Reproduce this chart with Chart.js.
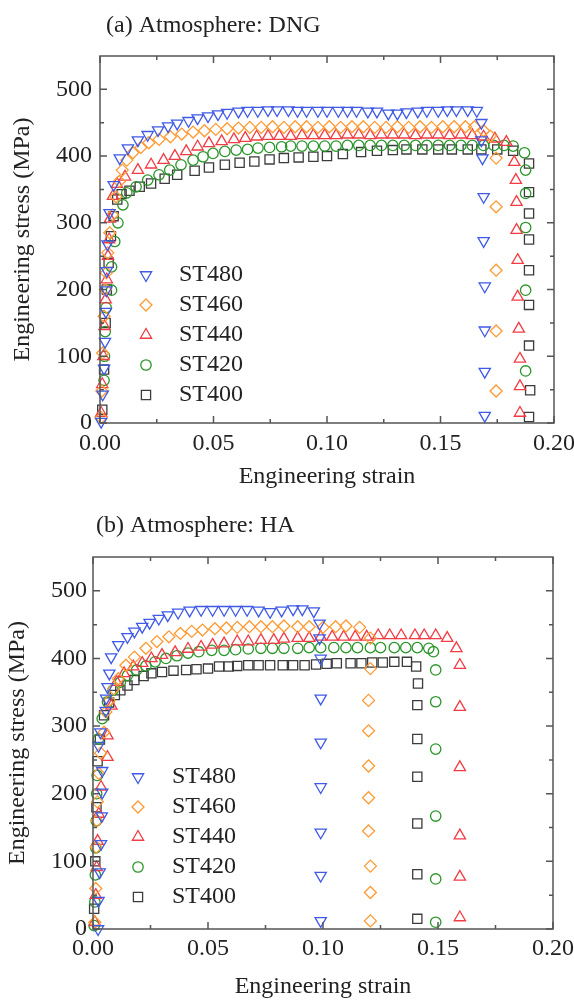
<!DOCTYPE html>
<html>
<head>
<meta charset="utf-8">
<script src="https://cdn.jsdelivr.net/npm/chart.js@4.4.1/dist/chart.umd.min.js"></script>
<style>
  html, body { margin: 0; padding: 0; background: #fff; }
  canvas { position: absolute; left: 0; }
</style>
</head>
<body>
<canvas id="chartDNG" width="574" height="500" style="top:0"></canvas>
<canvas id="chartHA" width="574" height="501" style="top:500px"></canvas>
<script>
const seriesNames = ["ST480", "ST460", "ST440", "ST420", "ST400"];
const xTickValues = [0, 0.05, 0.1, 0.15, 0.2];
const xMinorValues = [0.025, 0.075, 0.125, 0.175];
const yTickValues = [0, 100, 200, 300, 400, 500];
const yMinorValues = [50, 150, 250, 350, 450];

// (a) atmosphere DNG, points are [strain, stress MPa]
const dngST480 = [[0.0005,2],[0.0012,43],[0.0018,82],[0.0022,122],[0.0026,167],[0.0028,199],[0.003,228],[0.0033,268],[0.0042,315],[0.006,357],[0.0087,397],[0.0123,412],[0.0167,424],[0.021,432],[0.0256,439],[0.030,445],[0.034,449],[0.039,453],[0.043,457],[0.0476,460],[0.052,463],[0.056,465],[0.061,467],[0.065,468],[0.0695,468],[0.074,469],[0.078,469],[0.083,469],[0.087,468],[0.091,468],[0.096,468],[0.100,468],[0.105,468],[0.109,468],[0.113,468],[0.118,467],[0.122,467],[0.127,464],[0.131,464],[0.135,466],[0.140,467],[0.144,468],[0.149,468],[0.153,469],[0.157,469],[0.162,469],[0.166,468],[0.168,450],[0.168,424],[0.1685,397],[0.169,339],[0.169,273],[0.1695,205],[0.1695,139],[0.1695,77],[0.1695,11]];
const dngST460 = [[0.0005,8],[0.0008,48],[0.0012,105],[0.0018,160],[0.0024,200],[0.0028,225],[0.0034,255],[0.0043,285],[0.0055,312],[0.007,339],[0.0085,362],[0.0098,379],[0.0118,394],[0.0145,405],[0.018,413],[0.0215,420],[0.026,425],[0.031,429],[0.036,433],[0.041,436],[0.046,438],[0.051,440],[0.056,441],[0.061,442],[0.066,443],[0.071,443],[0.076,444],[0.081,443],[0.086,444],[0.091,444],[0.096,443],[0.101,444],[0.106,443],[0.111,444],[0.116,444],[0.121,443],[0.126,443],[0.131,444],[0.136,443],[0.141,444],[0.146,443],[0.151,444],[0.156,444],[0.161,444],[0.165,444],[0.169,438],[0.172,430],[0.1745,397],[0.1745,324],[0.1745,229],[0.1745,138],[0.1745,48]];
const dngST440 = [[0.0005,15],[0.001,58],[0.0015,100],[0.002,145],[0.0025,185],[0.003,215],[0.0035,250],[0.004,275],[0.0044,306],[0.0057,340],[0.0075,358],[0.011,369],[0.0167,379],[0.0225,387],[0.028,394],[0.033,400],[0.038,407],[0.043,414],[0.048,419],[0.0536,422],[0.059,425],[0.064,427],[0.069,429],[0.074,430],[0.079,430],[0.084,430],[0.089,431],[0.094,431],[0.099,431],[0.104,431],[0.109,432],[0.114,432],[0.119,431],[0.124,432],[0.129,432],[0.134,432],[0.139,431],[0.144,432],[0.149,432],[0.154,431],[0.159,432],[0.164,431],[0.169,429],[0.174,426],[0.179,421],[0.1825,391],[0.1832,364],[0.1835,331],[0.1835,289],[0.184,244],[0.184,189],[0.1845,141],[0.185,96],[0.185,55],[0.185,15]];
const dngST420 = [[0.0018,64],[0.002,100],[0.0023,137],[0.0027,173],[0.0051,199],[0.0051,234],[0.0065,272],[0.0079,300],[0.0101,327],[0.0118,345],[0.0159,354],[0.021,364],[0.026,372],[0.0307,379],[0.0357,387],[0.041,394],[0.0454,399],[0.0498,404],[0.055,407],[0.060,409],[0.065,410],[0.0696,412],[0.0747,413],[0.080,414],[0.084,415],[0.089,415],[0.094,415],[0.099,415],[0.104,415],[0.109,416],[0.114,416],[0.119,416],[0.124,416],[0.129,416],[0.134,416],[0.139,416],[0.144,416],[0.149,416],[0.154,416],[0.159,416],[0.164,416],[0.169,416],[0.1735,416],[0.178,416],[0.182,415],[0.187,405],[0.1875,379],[0.1875,344],[0.1875,293],[0.1875,199],[0.1875,78]];
const dngST400 = [[0.001,20],[0.0018,80],[0.0025,150],[0.003,200],[0.0038,240],[0.0048,280],[0.006,310],[0.0076,335],[0.0095,343],[0.013,348],[0.0175,354],[0.0225,359],[0.0285,366],[0.034,372],[0.0417,378],[0.048,383],[0.055,387],[0.0615,390],[0.068,392],[0.0747,395],[0.081,397],[0.0875,398],[0.094,399],[0.1,400],[0.107,403],[0.115,406],[0.122,408],[0.129,409],[0.135,410],[0.142,410],[0.149,410],[0.155,410],[0.162,410],[0.168,410],[0.175,410],[0.182,408],[0.189,389],[0.189,346],[0.189,314],[0.189,275],[0.189,229],[0.189,177],[0.189,116],[0.1895,49],[0.189,9]];

// (b) atmosphere HA
const haST480 = [[0.0022,0],[0.0024,42],[0.0029,84],[0.0035,126],[0.0038,167],[0.004,202],[0.004,234],[0.0024,271],[0.0032,291],[0.0055,323],[0.0057,341],[0.0063,358],[0.0071,378],[0.0079,402],[0.011,420],[0.015,432],[0.018,440],[0.0214,447],[0.0246,453],[0.0286,459],[0.0325,464],[0.037,468],[0.042,471],[0.047,472],[0.052,472],[0.057,472],[0.062,472],[0.067,472],[0.072,471],[0.077,469],[0.082,471],[0.087,473],[0.091,473],[0.096,470],[0.0985,452],[0.0985,430],[0.099,400],[0.099,341],[0.099,276],[0.099,210],[0.099,143],[0.099,79],[0.099,12]];
const haST460 = [[0.0008,10],[0.0012,60],[0.0014,121],[0.0017,160],[0.0019,188],[0.0025,230],[0.0033,260],[0.0048,291],[0.0056,321],[0.0071,338],[0.009,355],[0.011,370],[0.0143,390],[0.018,402],[0.023,415],[0.0278,425],[0.033,432],[0.038,437],[0.0429,440],[0.0476,442],[0.053,444],[0.058,445],[0.0627,446],[0.068,447],[0.073,447],[0.078,447],[0.083,448],[0.089,447],[0.094,447],[0.1,446],[0.1055,447],[0.11,448],[0.1159,446],[0.1206,430],[0.1206,385],[0.1198,338],[0.1198,293],[0.1198,241],[0.1198,194],[0.1198,145],[0.1206,93],[0.1206,54],[0.1206,12]];
const haST440 = [[0.0008,10],[0.0012,50],[0.0016,91],[0.002,130],[0.0025,170],[0.0035,210],[0.0063,254],[0.0063,286],[0.008,330],[0.0103,365],[0.0135,378],[0.0175,388],[0.0214,393],[0.0254,400],[0.030,405],[0.0357,409],[0.0413,414],[0.047,417],[0.052,420],[0.057,422],[0.0627,425],[0.0675,425],[0.073,427],[0.0786,427],[0.083,429],[0.089,430],[0.094,430],[0.099,432],[0.104,432],[0.109,432],[0.114,432],[0.119,432],[0.124,434],[0.129,434],[0.134,434],[0.14,434],[0.144,434],[0.149,434],[0.154,430],[0.158,415],[0.1595,390],[0.1595,328],[0.1595,239],[0.1595,138],[0.1595,77],[0.1595,17]];
const haST420 = [[0.0005,5],[0.0008,40],[0.001,80],[0.0012,120],[0.0014,160],[0.0016,200],[0.0018,227],[0.0024,281],[0.004,311],[0.0063,336],[0.0087,353],[0.0119,365],[0.015,375],[0.019,383],[0.023,389],[0.027,395],[0.0317,400],[0.0365,404],[0.0413,408],[0.046,410],[0.0516,412],[0.057,412],[0.062,413],[0.0675,414],[0.073,415],[0.078,415],[0.083,415],[0.089,415],[0.094,416],[0.099,416],[0.1047,416],[0.11,416],[0.115,416],[0.1206,416],[0.125,416],[0.131,416],[0.136,416],[0.141,416],[0.146,415],[0.148,410],[0.149,383],[0.149,336],[0.149,266],[0.149,167],[0.149,74],[0.149,10]];
const haST400 = [[0.0005,30],[0.001,100],[0.0015,180],[0.002,248],[0.003,280],[0.0048,316],[0.007,335],[0.0095,346],[0.0119,353],[0.015,360],[0.018,368],[0.022,374],[0.0254,378],[0.030,380],[0.035,382],[0.0405,383],[0.045,384],[0.05,385],[0.0548,388],[0.059,388],[0.0627,389],[0.0675,390],[0.072,390],[0.077,390],[0.0825,390],[0.087,390],[0.092,390],[0.097,391],[0.1016,392],[0.106,393],[0.112,393],[0.1167,393],[0.1214,394],[0.126,394],[0.131,395],[0.1365,395],[0.1405,388],[0.1413,363],[0.141,331],[0.141,281],[0.141,225],[0.141,156],[0.141,81],[0.141,15]];

const textColor = "#222";
const fontFamily = "'Liberation Serif', 'Times New Roman', serif";
Chart.defaults.font.family = fontFamily;
Chart.defaults.font.size = 24;
Chart.defaults.color = textColor;

const markerStyles = [
  { color: "#3f5ae6", pointStyle: "triangle", rotation: 180, radius: 6.5 },
  { color: "#ff9a33", pointStyle: "rectRot", rotation: 0, radius: 6 },
  { color: "#f23c44", pointStyle: "triangle", rotation: 0, radius: 6.5 },
  { color: "#2a962a", pointStyle: "circle", rotation: 0, radius: 5.2 },
  { color: "#3c3c3c", pointStyle: "rect", rotation: 0, radius: 6.5 },
];

function strokeMarker(ctx, style, x, y) {
  ctx.save();
  ctx.strokeStyle = style.color;
  ctx.fillStyle = "rgba(0,0,0,0)";
  ctx.lineWidth = 1.3;
  if (Chart.helpers && Chart.helpers.drawPoint) {
    Chart.helpers.drawPoint(ctx, { pointStyle: style.pointStyle, radius: style.radius, rotation: style.rotation, borderWidth: 1.3 }, x, y);
  }
  ctx.restore();
}

// frame around the plot with inward ticks on all four sides
const frameTicks = {
  id: "frameTicks",
  afterDatasetsDraw(chart) {
    const { ctx, chartArea: a, scales: { x, y } } = chart;
    ctx.save();
    ctx.strokeStyle = "#555";
    ctx.lineWidth = 1.5;
    ctx.strokeRect(a.left, a.top, a.right - a.left, a.bottom - a.top);
    ctx.beginPath();
    const xt = (v, len) => {
      const px = x.getPixelForValue(v);
      ctx.moveTo(px, a.bottom); ctx.lineTo(px, a.bottom - len);
      ctx.moveTo(px, a.top); ctx.lineTo(px, a.top + len);
    };
    const yt = (v, len) => {
      const py = y.getPixelForValue(v);
      ctx.moveTo(a.left, py); ctx.lineTo(a.left + len, py);
      ctx.moveTo(a.right, py); ctx.lineTo(a.right - len, py);
    };
    xTickValues.forEach(v => xt(v, 7));
    xMinorValues.forEach(v => xt(v, 4));
    yTickValues.forEach(v => yt(v, 7));
    yMinorValues.forEach(v => yt(v, 4));
    ctx.stroke();
    ctx.restore();
  }
};

const insideLegend = {
  id: "insideLegend",
  afterDatasetsDraw(chart, args, opts) {
    const { ctx, chartArea: a } = chart;
    chart.data.datasets.forEach((ds, i) => {
      const cy = a.top + opts.top + i * opts.gap;
      strokeMarker(ctx, markerStyles[i], a.left + opts.markerX, cy);
      ctx.save();
      ctx.fillStyle = textColor;
      ctx.font = "24px " + fontFamily;
      ctx.textBaseline = "middle";
      ctx.fillText(ds.label, a.left + opts.textX, cy);
      ctx.restore();
    });
  }
};

const panelTitle = {
  id: "panelTitle",
  afterDraw(chart, args, opts) {
    const ctx = chart.ctx;
    ctx.save();
    ctx.fillStyle = textColor;
    ctx.font = "24px " + fontFamily;
    ctx.textBaseline = "alphabetic";
    ctx.fillText(opts.text, opts.x, opts.y);
    ctx.restore();
  }
};

function makeChart(canvasId, title, seriesList, box) {
  const datasets = seriesList.map((pts, i) => ({
    label: seriesNames[i],
    data: pts.map(([x, y]) => ({ x, y })),
    pointStyle: markerStyles[i].pointStyle,
    pointRotation: markerStyles[i].rotation,
    pointRadius: markerStyles[i].radius,
    pointHoverRadius: markerStyles[i].radius,
    pointBorderWidth: 1.3,
    borderWidth: 1.3,
    borderColor: markerStyles[i].color,
    backgroundColor: "rgba(0,0,0,0)",
    showLine: false,
    clip: 8,
  }));

  new Chart(document.getElementById(canvasId), {
    type: "scatter",
    data: { datasets },
    options: {
      responsive: false,
      animation: false,
      events: [],
      layout: { padding: { top: box.top, right: box.right, left: 0, bottom: 0 } },
      scales: {
        x: {
          type: "linear",
          min: 0,
          max: 0.2,
          afterBuildTicks: s => { s.ticks = xTickValues.map(v => ({ value: v })); },
          afterFit: s => { s.height = box.bottom; s.paddingLeft = 0; s.paddingRight = 0; },
          grid: { display: false, drawTicks: false },
          border: { display: false },
          ticks: { padding: box.xTickPad, maxRotation: 0, autoSkip: false, callback: v => v.toFixed(2) },
          title: { display: true, text: "Engineering strain", padding: { top: 0, bottom: box.xTitlePad } },
        },
        y: {
          type: "linear",
          min: 0,
          max: 550,
          afterBuildTicks: s => { s.ticks = yTickValues.map(v => ({ value: v })); },
          afterFit: s => { s.width = box.left; s.paddingTop = 0; s.paddingBottom = 0; },
          grid: { display: false, drawTicks: false },
          border: { display: false },
          ticks: { padding: box.yTickPad, callback: v => String(v) },
          title: { display: true, text: "Engineering stress (MPa)", padding: { top: box.yTitlePad, bottom: 0 } },
        },
      },
      plugins: {
        legend: { display: false },
        tooltip: { enabled: false },
        insideLegend: { markerX: box.legendX, textX: box.legendTextX, top: box.legendTop, gap: 30 },
        panelTitle: { text: title, x: box.titleX, y: box.titleY },
      },
    },
    plugins: [frameTicks, insideLegend, panelTitle],
  });
}

makeChart("chartDNG", "(a) Atmosphere: DNG",
  [dngST480, dngST460, dngST440, dngST420, dngST400],
  { left: 100, top: 56, right: 20, bottom: 77, xTickPad: 6, yTickPad: 8, xTitlePad: 9, yTitlePad: 8,
    titleX: 106, titleY: 32, legendX: 46, legendTextX: 79, legendTop: 219 });

makeChart("chartHA", "(b) Atmosphere: HA",
  [haST480, haST460, haST440, haST420, haST400],
  { left: 93, top: 57, right: 21, bottom: 72, xTickPad: 5, yTickPad: 6, xTitlePad: 0, yTitlePad: 3,
    titleX: 96, titleY: 32, legendX: 45, legendTextX: 79, legendTop: 220 });
</script>
</body>
</html>
